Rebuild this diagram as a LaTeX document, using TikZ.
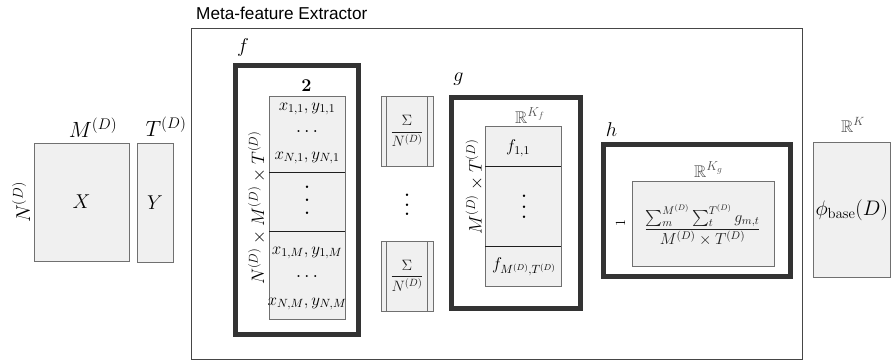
\RequirePackage{fix-cm}
\documentclass[tikz,border=0pt]{standalone}
\usepackage{amsmath}
\usepackage{amssymb}
\usepackage[no-math]{fontspec}
\newfontfamily\titlefont{Liberation Sans}
\definecolor{boxfill}{RGB}{240,240,240}
\definecolor{bordergray}{RGB}{112,112,112}
\definecolor{framegray}{RGB}{51,51,51}
\definecolor{extgray}{RGB}{70,70,70}
\definecolor{divgray}{RGB}{30,30,30}
\definecolor{rgray}{RGB}{80,80,80}
\newcommand{\vdd}[1]{\vbox{\baselineskip=#1\lineskiplimit=-100pt\hbox{.}\hbox{.}\hbox{.}}}
\newcommand{\hdd}[1]{\hbox{.\kern#1.\kern#1.}}
\newcommand{\supK}[1]{\mbox{\fontsize{13}{15}\selectfont$#1$}}
\tikzset{
  lbox/.style={draw=bordergray, fill=boxfill, line width=1pt, inner sep=0pt, outer sep=0pt},
  frm/.style={draw=framegray, line width=5pt, inner sep=0pt, outer sep=0pt},
  ext/.style={draw=extgray, line width=1pt, inner sep=0pt, outer sep=0pt},
  big/.style={font=\fontsize{20}{24}\selectfont, inner sep=0pt},
  bigger/.style={font=\fontsize{22}{26}\selectfont, inner sep=0pt},
  mid/.style={font=\fontsize{17}{20}\selectfont, inner sep=0pt},
  rot/.style={font=\fontsize{18}{21}\selectfont, inner sep=0pt, rotate=90},
  small/.style={font=\fontsize{15}{18}\selectfont, inner sep=0pt},
  rlab/.style={font=\fontsize{17}{20}\selectfont, inner sep=0pt, text=rgray},
  vdotsty/.style={font=\fontsize{30}{32}\selectfont, inner sep=0pt},
  hdotsty/.style={font=\fontsize{24}{26}\selectfont, inner sep=0pt},
  divider/.style={draw=divgray, line width=1pt},
  dbl/.style={draw=bordergray, line width=1pt},
}
\begin{document}
\begin{tikzpicture}[x=1pt,y=-1pt]
\useasboundingbox (0,0) rectangle (891,361);

% title and extractor box
\node[font=\titlefont\fontsize{17.2}{20}\selectfont, inner sep=0pt, anchor=base west] (title) at (196,20) {Meta-feature Extractor};
\node[ext, minimum width=611pt, minimum height=331pt] (mfe) at (497,194) {};

% input matrices
\node[lbox, big, minimum width=95pt, minimum height=118pt] (X) at (81.5,202) {$X$};
\node[lbox, big, minimum width=36pt, minimum height=119pt] (Y) at (155,202.5) {$Y$};
\node[bigger, anchor=base] (lblM) at (93,137) {$M^{(D)}$};
\node[bigger, anchor=base] (lblT) at (166,136) {$T^{(D)}$};
\node[big, anchor=base, rotate=90] (lblN) at (30,202.5) {$N^{(D)}$};

% f block
\node[big] (lblf) at (243,47.5) {$f$};
\node[frm, minimum width=123pt, minimum height=269pt] (fF) at (297,200) {};
\node[font=\fontsize{18}{20}\selectfont, inner sep=0pt] (two) at (306.5,85.5) {$\mathbf{2}$};
\node[lbox, minimum width=76pt, minimum height=76pt] (fc1) at (307,134) {};
\node[lbox, minimum width=76pt, minimum height=59pt] (fc2) at (307,201.5) {};
\node[lbox, minimum width=76pt, minimum height=88pt] (fc3) at (307,275) {};
\draw[divider] (fc1.south west) -- (fc1.south east);
\draw[divider] (fc3.north west) -- (fc3.north east);
\node[mid, anchor=base] (r11) at (307,110) {$x_{1,1}, y_{1,1}$};
\node[hdotsty] (rdots1) at (307,132) {\hdd{2.3pt}};
\node[mid, anchor=base] (rN1) at (307,159) {$x_{N,1}, y_{N,1}$};
\node[vdotsty] (vd1) at (307,200) {\vdd{13pt}};
\node[mid, anchor=base] (r1M) at (307,254) {$x_{1,M}, y_{1,M}$};
\node[hdotsty] (rdots2) at (307,277) {\hdd{2.3pt}};
\node[mid, anchor=base] (rNM) at (307,305) {$x_{N,M}, y_{N,M}$};
\node[rot] (lblNMT) at (257,208) {$N^{(D)} \times M^{(D)} \times T^{(D)}$};

% sum boxes
\node[lbox, minimum width=52pt, minimum height=70pt] (S1) at (407,131) {};
\node[lbox, minimum width=52pt, minimum height=70pt] (S2) at (407,276) {};
\draw[dbl] ([xshift=5pt]S1.north west) -- ([xshift=5pt]S1.south west);
\draw[dbl] ([xshift=-6pt]S1.north east) -- ([xshift=-6pt]S1.south east);
\draw[dbl] ([xshift=5pt]S2.north west) -- ([xshift=5pt]S2.south west);
\draw[dbl] ([xshift=-6pt]S2.north east) -- ([xshift=-6pt]S2.south east);
\node[small, anchor=base, text=divgray] (sf1) at (407,136) {$\dfrac{\Sigma}{N^{(D)}}$};
\node[small, anchor=base, text=divgray] (sf2) at (407,280.5) {$\dfrac{\Sigma}{N^{(D)}}$};
\node[vdotsty] (vdS) at (407,205) {\vdd{9.5pt}};

% g block
\node[big] (lblg) at (458.5,79) {$g$};
\node[frm, minimum width=129pt, minimum height=211pt] (gF) at (516,203) {};
\node[rlab, anchor=base] (lblRf) at (530,123) {$\mathbb{R}^{\supK{K_f}}$};
\node[lbox, minimum width=76pt, minimum height=40pt] (gc1) at (523,146) {};
\node[lbox, minimum width=76pt, minimum height=80pt] (gc2) at (523,206) {};
\node[lbox, minimum width=76pt, minimum height=40pt] (gc3) at (523,266) {};
\draw[divider] (gc1.south west) -- (gc1.south east);
\draw[divider] (gc3.north west) -- (gc3.north east);
\node[mid] (f11) at (518,148) {$f_{1,1}$};
\node[vdotsty] (vdg) at (524,207) {\vdd{10.5pt}};
\node[mid] (fMT) at (524,267) {$f_{M^{(D)},T^{(D)}}$};
\node[rot] (lblMT) at (474.5,187) {$M^{(D)} \times T^{(D)}$};

% h block
\node[big] (lblh) at (611.5,130) {$h$};
\node[frm, minimum width=187pt, minimum height=132pt] (hF) at (697,210.5) {};
\node[rlab, anchor=base] (lblRg) at (708.5,177) {$\mathbb{R}^{\supK{K_g}}$};
\node[lbox, minimum width=142pt, minimum height=85pt] (hb) at (703,223.5) {};
\node[font=\fontsize{14}{16}\selectfont, inner sep=0pt, rotate=90] (one) at (620.5,223.5) {$1$};
\node[font=\fontsize{16}{19}\selectfont, inner sep=0pt, anchor=base, text=divgray] (hfrac) at (702.5,233) {$\dfrac{\sum_m^{M^{(D)}} \sum_t^{T^{(D)}} g_{m,t}}{M^{(D)} \times T^{(D)}}$};

% output
\node[rlab, anchor=base] (lblRK) at (853,132) {$\mathbb{R}^{K}$};
\node[lbox, font=\fontsize{21}{24}\selectfont, minimum width=76.5pt, minimum height=135pt] (phi) at (851.75,210) {$\phi_{\mathrm{base}}(D)$};
\end{tikzpicture}
\end{document}
